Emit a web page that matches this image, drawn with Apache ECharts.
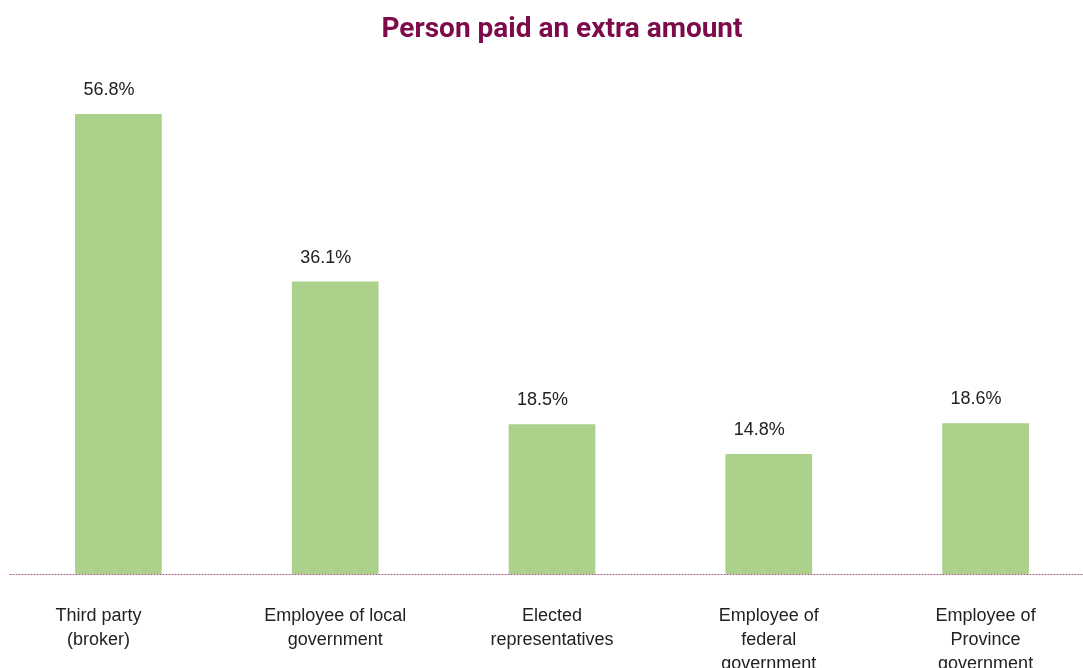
<!DOCTYPE html>
<html>
<head>
<meta charset="utf-8">
<script src="https://cdn.jsdelivr.net/npm/echarts@6/dist/echarts.min.js"></script>
<style>
  html, body { margin: 0; padding: 0; background: #ffffff; }
  #chart { width: 1083px; height: 668px; }
</style>
</head>
<body>
<div id="chart"></div>
<script>
// Share of respondents who paid an extra amount, by recipient
const categories = [
  'Third party\n(broker)',
  'Employee of local\ngovernment',
  'Elected\nrepresentatives',
  'Employee of\nfederal\ngovernment',
  'Employee of\nProvince\ngovernment'
];
const values = [56.8, 36.1, 18.5, 14.8, 18.6];

const chart = echarts.init(document.getElementById('chart'), null, { renderer: 'canvas' });

// The first category label sits a little left of its bar
const axisData = categories.map((name, i) => i === 0
  ? { value: name, textStyle: { padding: [0, 40, 0, 0] } }
  : name);

chart.setOption({
  animation: false,
  backgroundColor: '#ffffff',
  title: {
    text: 'Person paid an extra amount',
    left: 557,
    textAlign: 'center',
    top: 11,
    textStyle: {
      fontFamily: 'Roboto',
      fontWeight: 'bold',
      fontSize: 28,
      color: '#7d0b4b'
    }
  },
  grid: {
    left: 10,
    width: 1084,
    top: 88,
    height: 486,
    containLabel: false,
    outerBoundsMode: 'none'
  },
  xAxis: {
    type: 'category',
    data: axisData,
    axisLine: {
      show: true,
      lineStyle: { color: '#a4517d', type: [1, 2], width: 1 }
    },
    axisTick: { show: false },
    axisLabel: {
      interval: 0,
      margin: 30,
      fontFamily: 'Liberation Sans',
      fontSize: 18,
      lineHeight: 24,
      color: '#222222',
      align: 'center'
    }
  },
  yAxis: {
    type: 'value',
    min: 0,
    max: 60,
    show: false,
    splitLine: { show: false }
  },
  series: [{
    type: 'bar',
    data: values,
    barWidth: '40%',
    itemStyle: { color: '#acd18a' },
    label: {
      show: true,
      position: 'top',
      distance: 15,
      offset: [-9.5, 0],
      formatter: p => p.value.toFixed(1) + '%',
      fontFamily: 'Liberation Sans',
      fontSize: 18,
      color: '#222222'
    }
  }]
});
</script>
</body>
</html>
